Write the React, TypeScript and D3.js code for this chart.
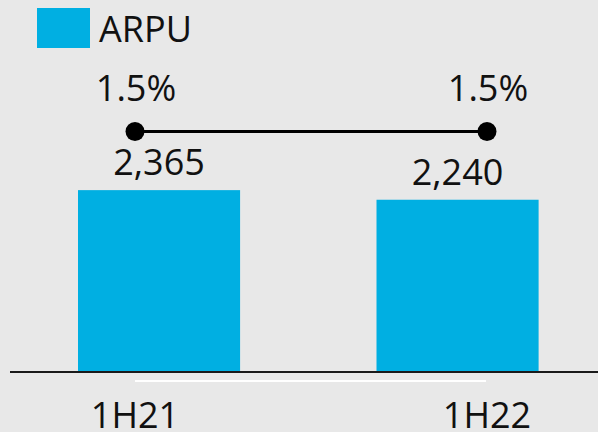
import React from "react";
import * as d3 from "d3";

const categories = ["1H21", "1H22"];
const arpuValues = [2365, 2240];
const arpuLabels = ["2,365", "2,240"];
const pctValues = [1.5, 1.5];
const pctLabels = ["1.5%", "1.5%"];
const legendLabel = "ARPU";

const W = 598;
const H = 432;
const BLUE = "#00afe2";
const BG = "#e8e8e8";
const FONT = "'Open Sans', 'Noto Sans', sans-serif";

export default function App() {
  const baseline = 372;
  const x = d3
    .scaleBand<string>()
    .domain(categories)
    .range([8, 608.6])
    .paddingInner(0.457)
    .paddingOuter(0.2345);
  const y = d3.scaleLinear().domain([0, 4000]).range([baseline, baseline - 307.6]);
  const xp = d3.scalePoint<string>().domain(categories).range([135, 487]);
  const yp = d3.scaleLinear().domain([0, 3]).range([235, 28]);

  const line = d3
    .line<number>()
    .x((_, i) => xp(categories[i]) as number)
    .y((d) => yp(d));

  return (
    <svg
      width={W}
      height={H}
      style={{ position: "absolute", left: 0, top: 0, display: "block" }}
      fontFamily={FONT}
    >
      <rect x={0} y={0} width={W} height={H} fill={BG} />
      {/* legend */}
      <rect x={37} y={8} width={53} height={40} fill={BLUE} />
      <text x={99} y={41.5} fontSize={36} fill="#111">
        {legendLabel}
      </text>

      {/* bars */}
      {categories.map((c, i) => (
        <g key={c}>
          <rect
            x={x(c)}
            y={y(arpuValues[i])}
            width={x.bandwidth()}
            height={baseline - y(arpuValues[i])}
            fill={BLUE}
          />
          <text
            x={(x(c) as number) + x.bandwidth() / 2}
            y={y(arpuValues[i]) - 15}
            fontSize={36}
            textAnchor="middle"
            fill="#111"
          >
            {arpuLabels[i]}
          </text>
        </g>
      ))}

      {/* line */}
      <path d={line(pctValues) || ""} fill="none" stroke="#000" strokeWidth={3} />
      {categories.map((c, i) => (
        <g key={c + "p"}>
          <circle cx={xp(c)} cy={yp(pctValues[i])} r={9.5} fill="#000" />
          <text
            x={(xp(c) as number) + 1}
            y={yp(pctValues[i]) - 31}
            fontSize={36}
            textAnchor="middle"
            fill="#111"
          >
            {pctLabels[i]}
          </text>
        </g>
      ))}

      {/* axis */}
      <line x1={10} x2={W} y1={baseline} y2={baseline} stroke="#1a1a1a" strokeWidth={2} />
      <line x1={135} x2={486} y1={381} y2={381} stroke="#ffffff" strokeWidth={2} />
      {categories.map((c) => (
        <text
          key={c + "l"}
          x={xp(c)}
          y={428}
          fontSize={36}
          textAnchor="middle"
          fill="#111"
        >
          {c}
        </text>
      ))}
    </svg>
  );
}
